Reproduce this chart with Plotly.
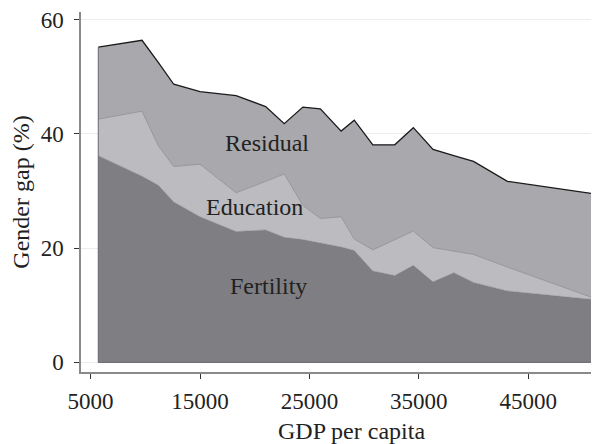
import plotly.graph_objects as go

# GDP per capita grid
gdp = [5700, 9700, 11200, 12600, 15000, 18300, 21000, 22700, 24400, 26000,
       27900, 29100, 30800, 32800, 34500, 36300, 38200, 40000, 43100, 51500]

# cumulative boundaries of the stacked areas (gender gap, %)
fertility = [36.2, 32.6, 31.0, 28.1, 25.5, 22.9, 23.2, 21.9, 21.5, 20.9,
             20.2, 19.6, 16.0, 15.2, 17.0, 14.1, 15.7, 14.0, 12.5, 10.9]
educ_top = [42.6, 44.0, 37.9, 34.3, 34.7, 29.7, 31.7, 33.0, 27.5, 25.2,
            25.5, 21.6, 19.7, 21.5, 23.0, 20.1, 19.5, 18.9, 16.7, 10.9]
total = [55.2, 56.4, 52.5, 48.7, 47.4, 46.7, 44.8, 41.8, 44.7, 44.4,
         40.5, 42.4, 38.1, 38.1, 41.1, 37.3, 36.2, 35.2, 31.7, 29.4]

education = [e - f for e, f in zip(educ_top, fertility)]
residual = [t - e for t, e in zip(total, educ_top)]

xticks = [5000, 15000, 25000, 35000, 45000]
xticklabels = ["5000", "15000", "25000", "35000", "45000"]
yticks = [0, 20, 40, 60]

FONT = "Liberation Serif, Times New Roman, serif"
TXT = "#222222"

fig = go.Figure()
fig.add_trace(go.Scatter(x=gdp, y=fertility, stackgroup="one", mode="lines",
                         fillcolor="#7f7f83", line=dict(color="#7f7f83", width=0.5),
                         name="Fertility"))
fig.add_trace(go.Scatter(x=gdp, y=education, stackgroup="one", mode="lines",
                         fillcolor="#bcbcc0", line=dict(color="#96969a", width=1),
                         name="Education"))
fig.add_trace(go.Scatter(x=gdp, y=residual, stackgroup="one", mode="lines",
                         fillcolor="#a9a9ad", line=dict(color="#1a1a1a", width=1.3),
                         name="Residual"))

# thin outline on the left and bottom edge of the areas
fig.add_trace(go.Scatter(x=[gdp[-1], gdp[0], gdp[0]], y=[0, 0, total[0]], mode="lines",
                         line=dict(color="#69696d", width=1), hoverinfo="skip"))

# area labels
for txt, xv, yv in [("Residual", 21100, 38.5), ("Education", 20000, 27.2), ("Fertility", 21250, 13.3)]:
    fig.add_annotation(x=xv, y=yv, text=txt, showarrow=False,
                       font=dict(family=FONT, size=24, color=TXT))

# x title placed as annotation (original plot is cropped on the right)
fig.add_annotation(x=0.514, y=-0.165, xref="paper", yref="paper", text="GDP per capita",
                   showarrow=False, yanchor="middle",
                   font=dict(family=FONT, size=24, color=TXT))

# the page body adds an 8px margin; the plot runs past the right edge like the cropped original
fig.update_layout(
    width=599, height=436,
    margin=dict(l=73, r=0, t=0, b=72),
    plot_bgcolor="white", paper_bgcolor="white",
    showlegend=False,
    font=dict(family=FONT, size=23, color=TXT),
    xaxis=dict(range=[4122, 52203], tickvals=xticks, ticktext=xticklabels,
               ticks="outside", ticklen=5, tickcolor="#333333", ticklabelstandoff=3,
               showgrid=False, zeroline=False,
               showline=True, linecolor="#8a8a8a", linewidth=1.5),
    yaxis=dict(range=[-1.68, 61.35], tickvals=yticks, ticks="outside", ticklen=5,
               tickcolor="#333333", ticklabelstandoff=6, ticklabeloverflow="allow",
               showgrid=True, gridcolor="#ececec", gridwidth=1,
               zeroline=False, showline=True, linecolor="#8a8a8a", linewidth=1.5,
               title=dict(text="Gender gap (%)", standoff=10,
                          font=dict(family=FONT, size=24, color=TXT))),
)

fig.write_html("out.html")
